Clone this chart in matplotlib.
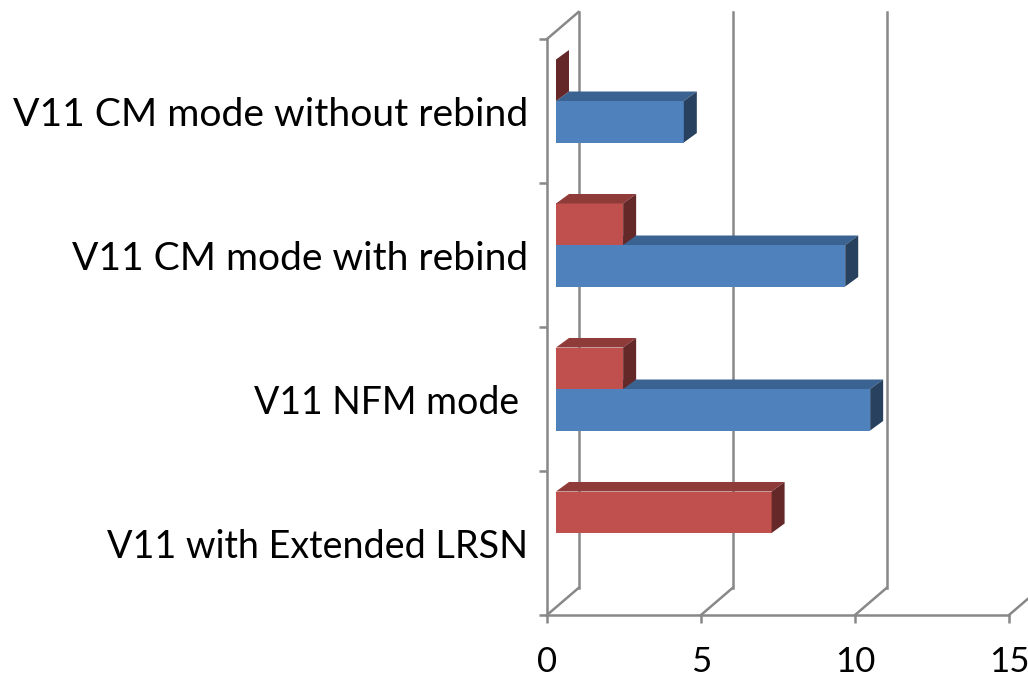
#!/usr/bin/python3
# 3D look horizontal bar chart, two series per category
import numpy as np
import matplotlib
matplotlib.use("agg")
import matplotlib.pyplot as plt

categories = ["V11 with Extended LRSN", "V11 NFM mode ", "V11 CM mode with rebind", "V11 CM mode without rebind"]
blue_values = [np.nan, 10.2, 9.39, 4.15]
red_values = [7.0, 2.18, 2.18, 0.0]
x_ticks = [0, 5, 10, 15]

GREY = "#888888"
BLUE = ("#4F81BD", "#3B6391", "#28415F")
RED = ("#C0504D", "#8F3B39", "#632827")
LW = 1.8

plt.rcParams["font.family"] = ["Lato", "DejaVu Sans"]

fig = plt.figure(figsize=(10.28, 6.78), dpi=100)
ax = fig.add_axes([547 / 1028, 1 - 615 / 678, 462 / 1028, 576 / 678])
ax.set_xlim(0, 15)
ax.set_ylim(0, 4)

# pixels -> data units
px_x = 15 / 462
px_y = 4 / 576

# back wall
wall_x = 31.5 * px_x
wall_y = 27 * px_y
wall_top = 4 + 27 * px_y
for v in x_ticks:
	ax.plot([v, v + wall_x], [0, wall_y], color=GREY, lw=LW, clip_on=False, zorder=1)
	ax.plot([v + wall_x, v + wall_x], [wall_y, wall_top], color=GREY, lw=LW, clip_on=False, zorder=1)
ax.plot([0, wall_x], [4, wall_top], color=GREY, lw=LW, clip_on=False, zorder=1)

# bars
shift_x = 9 * px_x
shift_y = 10 * px_y
bar_h = 41.5 * px_y
depth_x = 13 * px_x
depth_y = 9.5 * px_y


def draw_bars(values, centres, colours, z):
	for val, c in zip(values, centres):
		if np.isnan(val):
			continue
		x0 = shift_x
		x1 = shift_x + val
		y0 = c - bar_h / 2
		y1 = c + bar_h / 2
		if val > 0:
			ax.barh(c, val, height=bar_h, left=x0, color=colours[0], linewidth=0, zorder=z)
			ax.fill([x0, x1, x1 + depth_x, x0 + depth_x], [y1, y1, y1 + depth_y, y1 + depth_y],
				color=colours[1], linewidth=0, zorder=z)
		ax.fill([x1, x1 + depth_x, x1 + depth_x, x1], [y0, y0 + depth_y, y1 + depth_y, y1],
			color=colours[2], linewidth=0, zorder=z)


pos = np.arange(len(categories)) + 0.5
draw_bars(blue_values, pos + shift_y - bar_h / 2, BLUE, 3)
draw_bars(red_values, pos + shift_y + bar_h / 2, RED, 4)

# axes
for side in ["top", "right"]:
	ax.spines[side].set_visible(False)
for side in ["left", "bottom"]:
	ax.spines[side].set_color(GREY)
	ax.spines[side].set_linewidth(LW)
ax.set_xticks(x_ticks)
ax.set_yticks(pos)
ax.set_yticklabels(categories)
ax.set_yticks(np.arange(5), minor=True)
ax.tick_params(axis="x", length=5.8, width=LW, color=GREY, labelsize=25, pad=16.5)
ax.tick_params(axis="y", which="major", length=0, labelsize=27, pad=13.4)
ax.tick_params(axis="y", which="minor", length=5.8, width=LW, color=GREY)
# the two CM labels run a bit wider in the original
for t, size in zip(ax.get_yticklabels(), [27.2, 27, 28.1, 28.2]):
	t.set_fontsize(size)

fig.savefig("out.png", dpi=100)
